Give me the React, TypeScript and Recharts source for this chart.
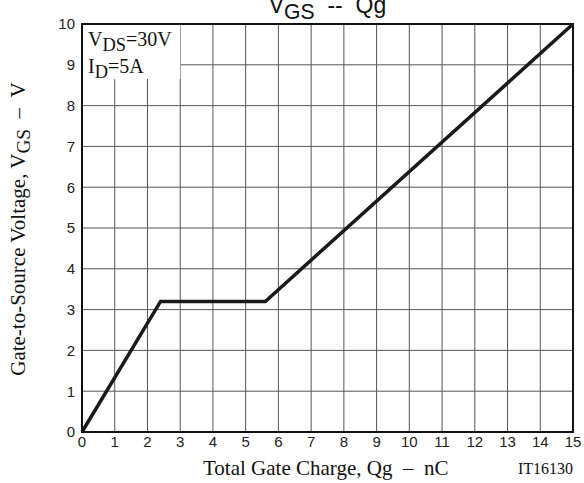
import React from "react";
import {
  LineChart,
  Line,
  XAxis,
  YAxis,
  CartesianGrid,
  ReferenceArea,
} from "recharts";

// curve (nC, V)
const gateCharge = [0, 2.4, 5.6, 15];
const gateVoltage = [0, 3.2, 3.2, 10];

const xTicks = [0, 1, 2, 3, 4, 5, 6, 7, 8, 9, 10, 11, 12, 13, 14, 15];
const yTicks = [0, 1, 2, 3, 4, 5, 6, 7, 8, 9, 10];

const data = gateCharge.map((q, i) => ({ q, v: gateVoltage[i] }));

const SANS = "'Liberation Sans', Arial, Helvetica, sans-serif";
const SERIF = "'Liberation Serif', 'Times New Roman', Times, serif";

const tickStyle = { fontFamily: SANS, fontSize: 15, fill: "#222" };

const sub: React.CSSProperties = {
  fontSize: "0.92em",
  verticalAlign: "-0.28em",
  lineHeight: 0,
};

export default function App() {
  return (
    <div
      style={{
        position: "absolute",
        left: 0,
        top: 0,
        width: 584,
        height: 483,
        background: "#fff",
        overflow: "hidden",
      }}
    >
      <LineChart
        width={584}
        height={483}
        data={data}
        margin={{ top: 24, right: 11, bottom: 0, left: 0 }}
      >
        <CartesianGrid stroke="#555" strokeWidth={1} />
        <XAxis
          dataKey="q"
          type="number"
          domain={[0, 15]}
          ticks={xTicks}
          height={51}
          tickLine={false}
          tickSize={0}
          tickMargin={4}
          axisLine={{ stroke: "#111", strokeWidth: 2 }}
          tick={tickStyle}
          interval={0}
        />
        <YAxis
          type="number"
          domain={[0, 10]}
          ticks={yTicks}
          width={82}
          tickLine={false}
          tickSize={0}
          tickMargin={7}
          axisLine={{ stroke: "#111", strokeWidth: 2 }}
          tick={tickStyle}
          interval={0}
        />
        <ReferenceArea
          x1={0}
          x2={3}
          y1={8.65}
          y2={10}
          fill="#fff"
          fillOpacity={1}
          stroke="none"
        />
        <ReferenceArea
          x1={0}
          x2={15}
          y1={0}
          y2={10}
          fill="none"
          stroke="#111"
          strokeWidth={2}
        />
        <Line
          dataKey="v"
          type="linear"
          stroke="#1a1a1a"
          strokeWidth={3.5}
          dot={false}
          isAnimationActive={false}
        />
      </LineChart>

      {/* title, clipped at the top like the scan */}
      <div
        style={{
          position: "absolute",
          left: 82,
          width: 491,
          top: -8,
          textAlign: "center",
          fontFamily: SANS,
          fontSize: 23,
          color: "#111",
          whiteSpace: "nowrap",
        }}
      >
        V<span style={sub}>GS</span>&nbsp;&nbsp;--&nbsp;&nbsp;Qg
      </div>

      {/* conditions box */}
      <div
        style={{
          position: "absolute",
          left: 88,
          top: 26,
          fontFamily: SERIF,
          fontSize: 20,
          lineHeight: "27px",
          color: "#111",
          whiteSpace: "nowrap",
        }}
      >
        <div>
          V<span style={sub}>DS</span>=30V
        </div>
        <div>
          I<span style={sub}>D</span>=5A
        </div>
      </div>

      {/* y axis title */}
      <div
        style={{
          position: "absolute",
          left: 18,
          top: 229,
          transform: "translate(-50%, -50%) rotate(-90deg)",
          fontFamily: SERIF,
          fontSize: 21,
          color: "#111",
          whiteSpace: "nowrap",
        }}
      >
        Gate-to-Source Voltage, V<span style={sub}>GS</span>&nbsp;&nbsp;–&nbsp;&nbsp;V
      </div>

      {/* x axis title */}
      <div
        style={{
          position: "absolute",
          left: 203,
          top: 456,
          fontFamily: SERIF,
          fontSize: 21,
          color: "#111",
          whiteSpace: "nowrap",
        }}
      >
        Total Gate Charge, Qg&nbsp;&nbsp;–&nbsp;&nbsp;nC
      </div>

      <div
        style={{
          position: "absolute",
          left: 518,
          top: 460,
          fontFamily: SERIF,
          fontSize: 16,
          color: "#111",
          whiteSpace: "nowrap",
        }}
      >
        IT16130
      </div>
    </div>
  );
}
